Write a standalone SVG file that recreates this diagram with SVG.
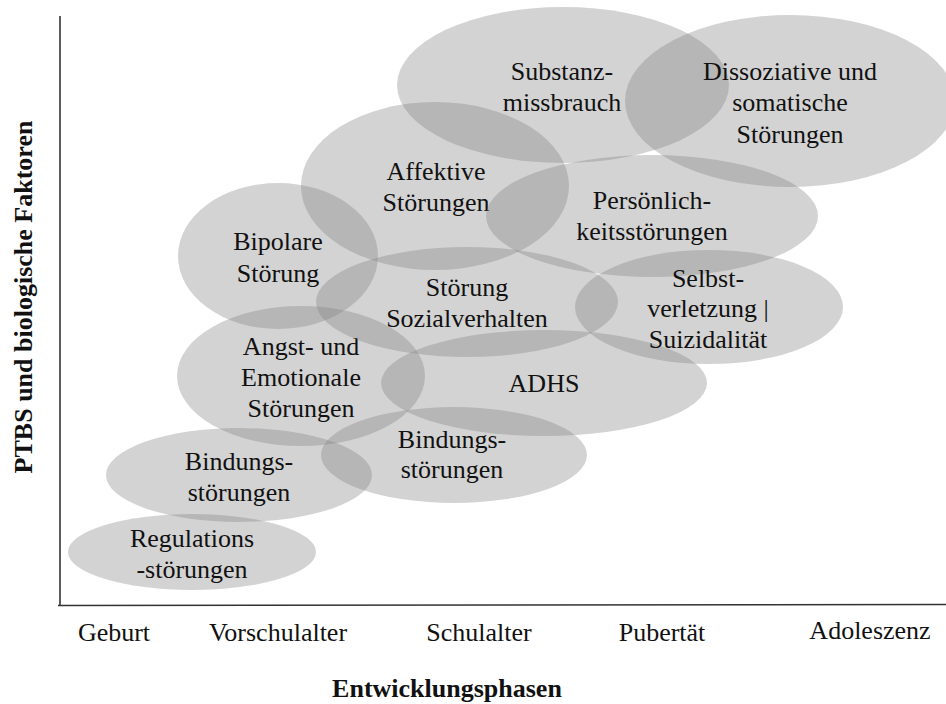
<svg xmlns="http://www.w3.org/2000/svg" width="946" height="704" viewBox="0 0 946 704">
  <style>
    .blob { fill: #808080; fill-opacity: 0.35; stroke: none; }
    .lbl { font-family: "Liberation Serif", "Times New Roman", serif; font-size: 26px; fill: #111; text-anchor: middle; }
    .ttl { font-family: "Liberation Serif", "Times New Roman", serif; font-size: 26px; font-weight: bold; fill: #111; text-anchor: middle; }
    .axis { stroke: #333; stroke-width: 1.6; fill: none; }
  </style>
  <rect width="946" height="704" fill="#fff"/>

  <!-- axes -->
  <g id="axes">
    <line class="axis" x1="60" y1="16" x2="60" y2="606"/>
    <line class="axis" x1="58" y1="605.5" x2="946" y2="604.5"/>
  </g>

  <!-- disorder regions, each a translucent ellipse with its label -->
  <g id="regulation">
    <ellipse class="blob" cx="192" cy="552" rx="124" ry="38"/>
    <text class="lbl" x="192" y="547">Regulations</text>
    <text class="lbl" x="192" y="578">-störungen</text>
  </g>
  <g id="bindung-early">
    <ellipse class="blob" cx="239" cy="475" rx="133" ry="47"/>
    <text class="lbl" x="239" y="470">Bindungs-</text>
    <text class="lbl" x="239" y="501">störungen</text>
  </g>
  <g id="angst">
    <ellipse class="blob" cx="301" cy="376" rx="124" ry="70"/>
    <text class="lbl" x="301" y="355">Angst- und</text>
    <text class="lbl" x="301" y="386">Emotionale</text>
    <text class="lbl" x="301" y="417">Störungen</text>
  </g>
  <g id="bindung-school">
    <ellipse class="blob" cx="454" cy="455" rx="133" ry="48"/>
    <text class="lbl" x="452" y="448">Bindungs-</text>
    <text class="lbl" x="452" y="478">störungen</text>
  </g>
  <g id="adhs">
    <ellipse class="blob" cx="544" cy="383" rx="163" ry="53"/>
    <text class="lbl" x="544" y="392">ADHS</text>
  </g>
  <g id="sozialverhalten">
    <ellipse class="blob" cx="467" cy="302" rx="151" ry="55"/>
    <text class="lbl" x="467" y="296">Störung</text>
    <text class="lbl" x="467" y="327">Sozialverhalten</text>
  </g>
  <g id="bipolar">
    <ellipse class="blob" cx="278" cy="256" rx="100" ry="73"/>
    <text class="lbl" x="278" y="250">Bipolare</text>
    <text class="lbl" x="278" y="282">Störung</text>
  </g>
  <g id="affektiv">
    <ellipse class="blob" cx="435" cy="186" rx="134" ry="84"/>
    <text class="lbl" x="436" y="180">Affektive</text>
    <text class="lbl" x="436" y="211">Störungen</text>
  </g>
  <g id="substanz">
    <ellipse class="blob" cx="563" cy="85" rx="166" ry="78"/>
    <text class="lbl" x="562" y="80">Substanz-</text>
    <text class="lbl" x="562" y="111">missbrauch</text>
  </g>
  <g id="dissoziativ">
    <ellipse class="blob" cx="790" cy="101" rx="165" ry="86"/>
    <text class="lbl" x="790" y="80">Dissoziative und</text>
    <text class="lbl" x="790" y="111">somatische</text>
    <text class="lbl" x="790" y="143">Störungen</text>
  </g>
  <g id="persoenlichkeit">
    <ellipse class="blob" cx="652" cy="216" rx="166" ry="61"/>
    <text class="lbl" x="652" y="209">Persönlich-</text>
    <text class="lbl" x="652" y="240">keitsstörungen</text>
  </g>
  <g id="selbstverletzung">
    <ellipse class="blob" cx="709" cy="307" rx="134" ry="57"/>
    <text class="lbl" x="708" y="287">Selbst-</text>
    <text class="lbl" x="708" y="317">verletzung |</text>
    <text class="lbl" x="708" y="348">Suizidalität</text>
  </g>

  <!-- phase labels on the x axis -->
  <g id="phases">
    <text class="lbl" x="114" y="641">Geburt</text>
    <text class="lbl" x="278" y="641">Vorschulalter</text>
    <text class="lbl" x="479" y="641">Schulalter</text>
    <text class="lbl" x="662" y="641">Pubertät</text>
    <text class="lbl" x="870" y="639">Adoleszenz</text>
  </g>

  <!-- axis titles -->
  <g id="titles">
    <text class="ttl" x="447" y="697">Entwicklungsphasen</text>
    <text class="ttl" transform="translate(32 297) rotate(-90)">PTBS und biologische Faktoren</text>
  </g>
</svg>
